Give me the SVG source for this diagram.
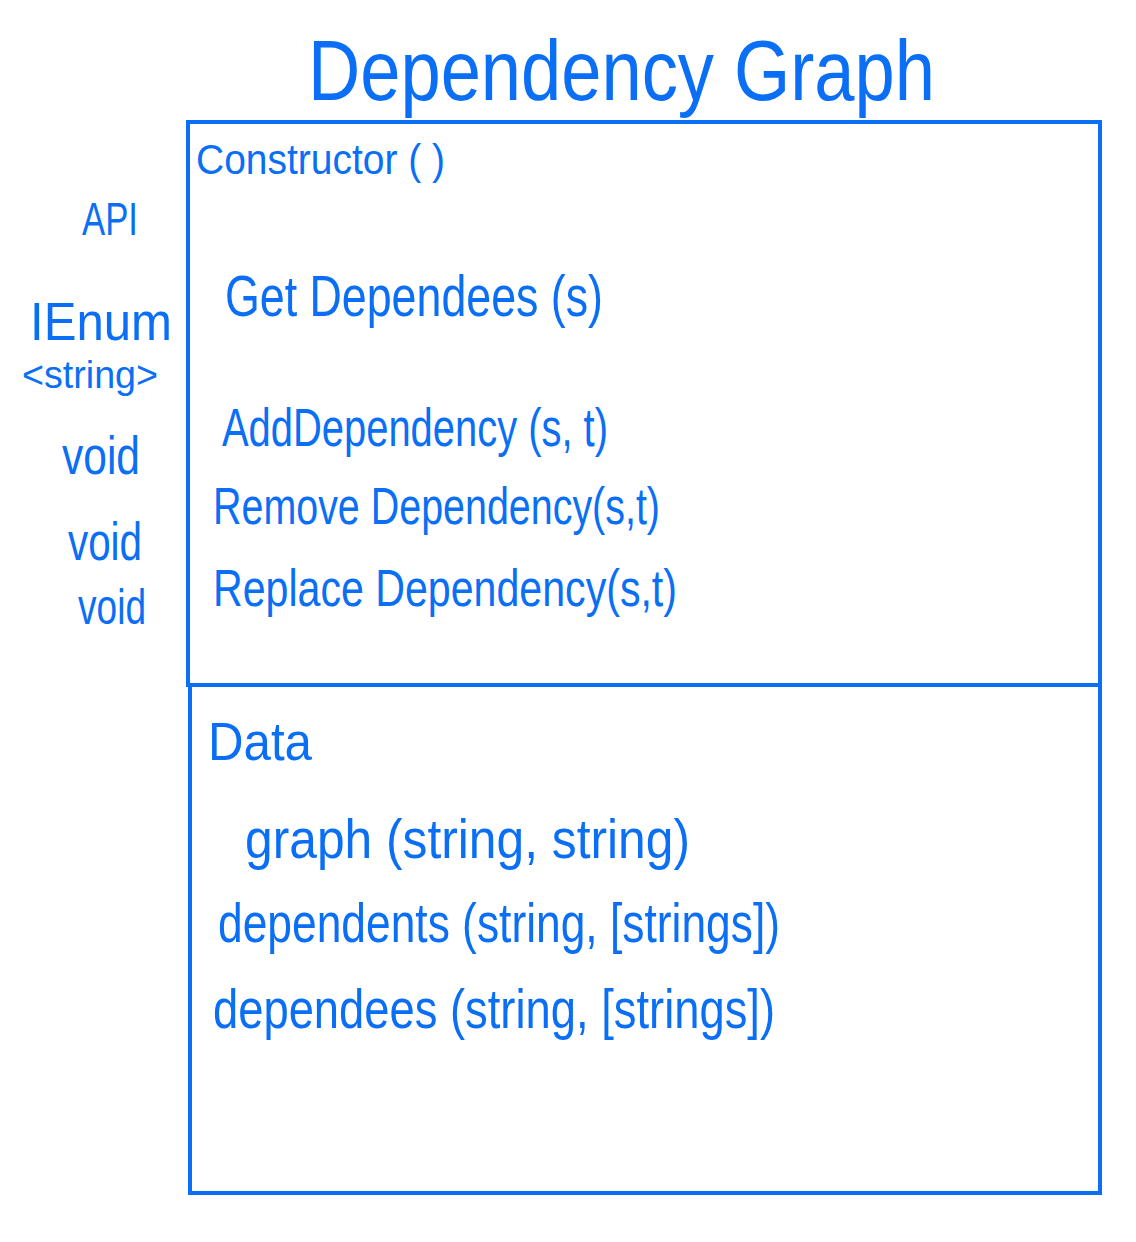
<svg xmlns="http://www.w3.org/2000/svg" width="1136" height="1242" viewBox="0 0 1136 1242">
<style>
.t{font-family:"Liberation Sans","DejaVu Sans",sans-serif;fill:#0a6ff5;}
.box{fill:none;stroke:#0a6ff5;stroke-width:4;}
</style>
<rect width="1136" height="1242" fill="#ffffff"/>
<g id="title"><text class="t" x="308" y="100" font-size="86" textLength="627" lengthAdjust="spacingAndGlyphs">Dependency Graph</text></g>
<g id="api-box">
<rect class="box" x="188" y="122" width="912" height="563"/>
<text class="t" x="196" y="174" font-size="42" textLength="249" lengthAdjust="spacingAndGlyphs">Constructor ( )</text>
<text class="t" x="225" y="316" font-size="58" textLength="378" lengthAdjust="spacingAndGlyphs">Get Dependees (s)</text>
<text class="t" x="222" y="446" font-size="54" textLength="386" lengthAdjust="spacingAndGlyphs">AddDependency (s, t)</text>
<text class="t" x="213" y="524" font-size="52" textLength="447" lengthAdjust="spacingAndGlyphs">Remove Dependency(s,t)</text>
<text class="t" x="213" y="606" font-size="52" textLength="464" lengthAdjust="spacingAndGlyphs">Replace Dependency(s,t)</text>
</g>
<g id="types">
<text class="t" x="82" y="235" font-size="46" textLength="56" lengthAdjust="spacingAndGlyphs">API</text>
<text class="t" x="30" y="340" font-size="54" textLength="142" lengthAdjust="spacingAndGlyphs">IEnum</text>
<text class="t" x="22" y="388" font-size="38" textLength="136" lengthAdjust="spacingAndGlyphs">&lt;string&gt;</text>
<text class="t" x="62" y="474" font-size="54" textLength="78" lengthAdjust="spacingAndGlyphs">void</text>
<text class="t" x="68" y="560" font-size="54" textLength="74" lengthAdjust="spacingAndGlyphs">void</text>
<text class="t" x="78" y="624" font-size="50" textLength="68" lengthAdjust="spacingAndGlyphs">void</text>
</g>
<g id="data-box">
<rect class="box" x="190" y="685" width="910" height="508"/>
<text class="t" x="208" y="760" font-size="54" textLength="104" lengthAdjust="spacingAndGlyphs">Data</text>
<text class="t" x="245" y="858" font-size="56" textLength="445" lengthAdjust="spacingAndGlyphs">graph (string, string)</text>
<text class="t" x="218" y="942" font-size="56" textLength="562" lengthAdjust="spacingAndGlyphs">dependents (string, [strings])</text>
<text class="t" x="213" y="1028" font-size="56" textLength="562" lengthAdjust="spacingAndGlyphs">dependees (string, [strings])</text>
</g>
<g id="connectors"></g>
</svg>
